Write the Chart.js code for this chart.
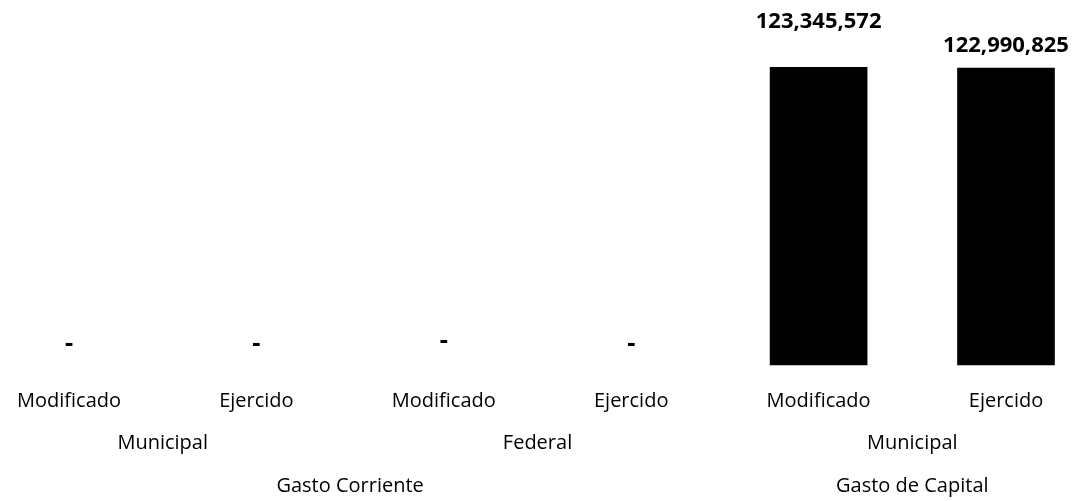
<!DOCTYPE html>
<html>
<head>
<meta charset="utf-8">
<script src="https://cdn.jsdelivr.net/npm/chart.js@4/dist/chart.umd.min.js"></script>
<style>
  html, body { margin: 0; padding: 0; background: #fff; }
  #wrap { width: 1080px; height: 501px; }
</style>
</head>
<body>
<div id="wrap"><canvas id="chart" width="1080" height="501"></canvas></div>
<script>
// Categories (three levels) and values
const stages = ['Modificado', 'Ejercido', 'Modificado', 'Ejercido', 'Modificado', 'Ejercido'];
const sources = [
  { label: 'Municipal', from: 0, to: 1 },
  { label: 'Federal', from: 2, to: 3 },
  { label: 'Municipal', from: 4, to: 5 }
];
const spendTypes = [
  { label: 'Gasto Corriente', from: 0, to: 3 },
  { label: 'Gasto de Capital', from: 4, to: 5 }
];
const amounts = [0, 0, 0, 0, 123345572, 122990825];

// how far above the bar top each label sits
const labelOffsets = [20, 20, 23, 20, 45, 22];

const fmt = n => n.toLocaleString('en-US');
const tickFont = '20px "Open Sans"';

// value labels ("-" for zero) and grouped category labels
const labelsPlugin = {
  id: 'labelsPlugin',
  afterDatasetsDraw(chart) {
    const ctx = chart.ctx;
    const meta = chart.getDatasetMeta(0);
    ctx.save();
    ctx.fillStyle = '#000';
    ctx.textAlign = 'center';
    ctx.textBaseline = 'middle';
    meta.data.forEach((bar, i) => {
      const v = amounts[i];
      if (v > 0) {
        ctx.font = 'bold 22px "Open Sans"';
        ctx.fillText(fmt(v), bar.x, bar.y - labelOffsets[i]);
      } else {
        ctx.font = 'bold 22px "DejaVu Sans"';
        ctx.fillText('-', bar.x, bar.y - labelOffsets[i]);
      }
    });

    const x = chart.scales.x;
    ctx.font = tickFont;
    sources.forEach(g => {
      const cx = (x.getPixelForValue(g.from) + x.getPixelForValue(g.to)) / 2;
      ctx.fillText(g.label, cx, 443);
    });
    spendTypes.forEach(g => {
      const cx = (x.getPixelForValue(g.from) + x.getPixelForValue(g.to)) / 2;
      ctx.fillText(g.label, cx, 486);
    });
    ctx.restore();
  }
};

new Chart(document.getElementById('chart'), {
  type: 'bar',
  data: {
    labels: stages,
    datasets: [{
      data: amounts,
      backgroundColor: amounts.map(v => v > 0 ? '#000' : 'rgba(0,0,0,0)'),
      borderWidth: 0,
      barThickness: 97,
      clip: false
    }]
  },
  options: {
    responsive: false,
    animation: false,
    layout: { padding: { top: 27, left: 69, right: 74, bottom: 0 } },
    plugins: {
      legend: { display: false },
      tooltip: { enabled: false }
    },
    scales: {
      x: {
        offset: false,
        grid: { display: false },
        border: { display: false },
        ticks: {
          color: '#000',
          font: { family: 'Open Sans', size: 20 },
          padding: 16,
          maxRotation: 0,
          autoSkip: false
        },
        afterFit(scale) { scale.height = 136; }
      },
      y: {
        display: false,
        min: 0,
        max: 140000000
      }
    }
  },
  plugins: [labelsPlugin]
});
</script>
</body>
</html>
